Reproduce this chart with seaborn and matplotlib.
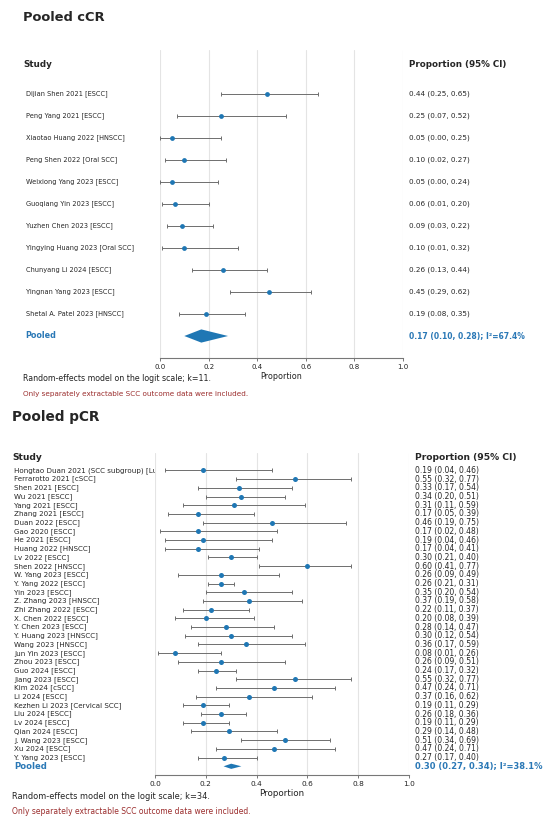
import numpy as np
import pandas as pd
import matplotlib
matplotlib.use("Agg")
import matplotlib.pyplot as plt
import matplotlib.transforms as mtransforms
import seaborn as sns

#%% data
ccr_studies = ["Dijian Shen 2021 [ESCC]", "Peng Yang 2021 [ESCC]", "Xiaotao Huang 2022 [HNSCC]",
               "Peng Shen 2022 [Oral SCC]", "Weixiong Yang 2023 [ESCC]", "Guoqiang Yin 2023 [ESCC]",
               "Yuzhen Chen 2023 [ESCC]", "Yingying Huang 2023 [Oral SCC]", "Chunyang Li 2024 [ESCC]",
               "Yingnan Yang 2023 [ESCC]", "Shetal A. Patel 2023 [HNSCC]"]
ccr_est = [0.44, 0.25, 0.05, 0.10, 0.05, 0.06, 0.09, 0.10, 0.26, 0.45, 0.19]
ccr_lo = [0.25, 0.07, 0.00, 0.02, 0.00, 0.01, 0.03, 0.01, 0.13, 0.29, 0.08]
ccr_hi = [0.65, 0.52, 0.25, 0.27, 0.24, 0.20, 0.22, 0.32, 0.44, 0.62, 0.35]
ccr_pooled = [0.17, 0.10, 0.28]
ccr_i2 = 67.4

pcr_studies = ["Hongtao Duan 2021 (SCC subgroup) [Lung SCC]", "Ferrarotto 2021 [cSCC]", "Shen 2021 [ESCC]",
               "Wu 2021 [ESCC]", "Yang 2021 [ESCC]", "Zhang 2021 [ESCC]", "Duan 2022 [ESCC]",
               "Gao 2020 [ESCC]", "He 2021 [ESCC]", "Huang 2022 [HNSCC]", "Lv 2022 [ESCC]",
               "Shen 2022 [HNSCC]", "W. Yang 2023 [ESCC]", "Y. Yang 2022 [ESCC]", "Yin 2023 [ESCC]",
               "Z. Zhang 2023 [HNSCC]", "Zhi Zhang 2022 [ESCC]", "X. Chen 2022 [ESCC]", "Y. Chen 2023 [ESCC]",
               "Y. Huang 2023 [HNSCC]", "Wang 2023 [HNSCC]", "Jun Yin 2023 [ESCC]", "Zhou 2023 [ESCC]",
               "Guo 2024 [ESCC]", "Jiang 2023 [ESCC]", "Kim 2024 [cSCC]", "Li 2024 [ESCC]",
               "Kezhen Li 2023 [Cervical SCC]", "Liu 2024 [ESCC]", "Lv 2024 [ESCC]", "Qian 2024 [ESCC]",
               "J. Wang 2023 [ESCC]", "Xu 2024 [ESCC]", "Y. Yang 2023 [ESCC]"]
pcr_est = [0.19, 0.55, 0.33, 0.34, 0.31, 0.17, 0.46, 0.17, 0.19, 0.17, 0.30, 0.60, 0.26, 0.26, 0.35, 0.37, 0.22,
           0.20, 0.28, 0.30, 0.36, 0.08, 0.26, 0.24, 0.55, 0.47, 0.37, 0.19, 0.26, 0.19, 0.29, 0.51, 0.47, 0.27]
pcr_lo = [0.04, 0.32, 0.17, 0.20, 0.11, 0.05, 0.19, 0.02, 0.04, 0.04, 0.21, 0.41, 0.09, 0.21, 0.20, 0.19, 0.11,
          0.08, 0.14, 0.12, 0.17, 0.01, 0.09, 0.17, 0.32, 0.24, 0.16, 0.11, 0.18, 0.11, 0.14, 0.34, 0.24, 0.17]
pcr_hi = [0.46, 0.77, 0.54, 0.51, 0.59, 0.39, 0.75, 0.48, 0.46, 0.41, 0.40, 0.77, 0.49, 0.31, 0.54, 0.58, 0.37,
          0.39, 0.47, 0.54, 0.59, 0.26, 0.51, 0.32, 0.77, 0.71, 0.62, 0.29, 0.36, 0.29, 0.48, 0.69, 0.71, 0.40]
pcr_pooled = [0.30, 0.27, 0.34]
pcr_i2 = 38.1

#%% style
sns.set_style("whitegrid")
plt.rcParams["font.family"] = ["DejaVu Sans"]

W, H = 550, 822
BLUE = "#1f77b4"
POOL = "#2a78b6"
RED = "#9b2d2d"
GREY = "#6e6e6e"


def fx(px):
    return px / W


def fy(py):
    return 1 - py / H


def forest(fig, box, title, studies, est, lo, hi, pooled, i2, opt):
    left, top, right, bottom = box
    n = len(studies)
    df = pd.DataFrame({"study": studies, "est": est, "lo": lo, "hi": hi})
    df["row"] = np.arange(n)

    ax = fig.add_axes([fx(left), fy(bottom), fx(right) - fx(left), fy(top) - fy(bottom)])
    lab = fig.add_axes([0, fy(bottom), fx(left), fy(top) - fy(bottom)])
    for a in (ax, lab):
        a.set_ylim(n + 1, -2)
    lab.axis("off")

    # whiskers + points
    ax.errorbar(df["est"], df["row"], xerr=[df["est"] - df["lo"], df["hi"] - df["est"]],
                fmt="none", ecolor=GREY, elinewidth=0.7, capsize=1.3, capthick=0.7, zorder=2)
    sns.scatterplot(data=df, x="est", y="row", ax=ax, color=BLUE, s=opt["ms"],
                    linewidth=0, zorder=3, legend=False)
    # pooled diamond
    pe, pl, ph = pooled
    h = 0.3
    ax.fill([pl, pe, ph, pe], [n, n - h, n, n + h], color=BLUE, lw=0, zorder=3)

    ax.set_xlim(0, 1)
    ax.set_xticks(np.arange(0, 1.01, 0.2))
    ax.set_xticklabels([f"{v:.1f}" for v in np.arange(0, 1.01, 0.2)])
    ax.set_yticks([])
    ax.set_ylabel("")
    ax.set_xlabel("Proportion", fontsize=opt["xl"], labelpad=opt["lp"], color="#222222")
    ax.grid(axis="y", visible=False)
    ax.grid(axis="x", color="#e4e4e4", lw=0.8)
    for s in ("top", "left", "right"):
        ax.spines[s].set_visible(False)
    ax.spines["bottom"].set_color("#777777")
    ax.spines["bottom"].set_linewidth(0.8)
    ax.tick_params(axis="x", bottom=True, length=2.5, width=0.7, color="#777777",
                   labelsize=opt["tk"], pad=2, labelcolor="#222222")

    # left column
    lab_tr = mtransforms.blended_transform_factory(lab.transAxes, lab.transData)
    for i, s in enumerate(studies):
        lab.text(opt["lx"] / left, i, s, transform=lab_tr, va="center", ha="left",
                 fontsize=opt["lab"], color="#262626", clip_on=True)
    lab.text(opt["lx"] / left, n, "Pooled", transform=lab_tr, va="center", ha="left",
             fontsize=opt["pl"], color=POOL, fontweight="bold", clip_on=True)

    # right column
    ci_tr = mtransforms.blended_transform_factory(fig.transFigure, ax.transData)
    for i in range(n):
        ax.text(fx(opt["cx"]), i, f"{est[i]:.2f} ({lo[i]:.2f}, {hi[i]:.2f})", transform=ci_tr,
                va="center", ha="left", fontsize=opt["ci"], color="#262626", clip_on=False)
    ax.text(fx(opt["cx"]), n, f"{pe:.2f} ({pl:.2f}, {ph:.2f}); I\u00b2={i2:.1f}%", transform=ci_tr,
            va="center", ha="left", fontsize=opt["pci"], color=POOL, fontweight="bold", clip_on=False)

    # titles, headers, notes
    fig.text(fx(opt["tx"]), fy(opt["ty"]), title, fontsize=opt["tt"], fontweight="bold", va="baseline")
    fig.text(fx(opt["hx"]), fy(opt["hy"]), "Study", fontsize=opt["hd"], fontweight="bold", va="baseline")
    fig.text(fx(opt["cx"]), fy(opt["hy"]), "Proportion (95% CI)", fontsize=opt["hd"],
             fontweight="bold", va="baseline")
    fig.text(fx(opt["tx"]), fy(opt["fy1"]), f"Random-effects model on the logit scale; k={n}.",
             fontsize=opt["ft"], va="baseline", color="#222222")
    fig.text(fx(opt["tx"]), fy(opt["fy2"]), "Only separately extractable SCC outcome data were included.",
             fontsize=opt["rn"], va="baseline", color=RED)
    return ax


fig = plt.figure(figsize=(W / 100, H / 100), dpi=100)

forest(fig, (160, 50, 403, 358), "Pooled cCR", ccr_studies, ccr_est, ccr_lo, ccr_hi, ccr_pooled, ccr_i2,
       dict(ms=12, xl=5.8, lp=1.5, tk=5.0, lab=4.8, pl=5.8, ci=5.2, pci=5.5, tt=9.4, hd=6.3,
            lx=25.5, cx=409, tx=23, ty=20.7, hx=23, hy=66.7, ft=5.7, rn=5.2, fy1=380.5, fy2=395.5))

forest(fig, (155, 453, 409, 775), "Pooled pCR", pcr_studies, pcr_est, pcr_lo, pcr_hi, pcr_pooled, pcr_i2,
       dict(ms=13, xl=6.3, lp=1.5, tk=5.3, lab=5.1, pl=6.1, ci=5.5, pci=6.0, tt=9.8, hd=6.6,
            lx=14, cx=415, tx=12, ty=420.7, hx=12, hy=460.3, ft=5.95, rn=5.5, fy1=798.5, fy2=814))

fig.savefig("out.png", dpi=100)
